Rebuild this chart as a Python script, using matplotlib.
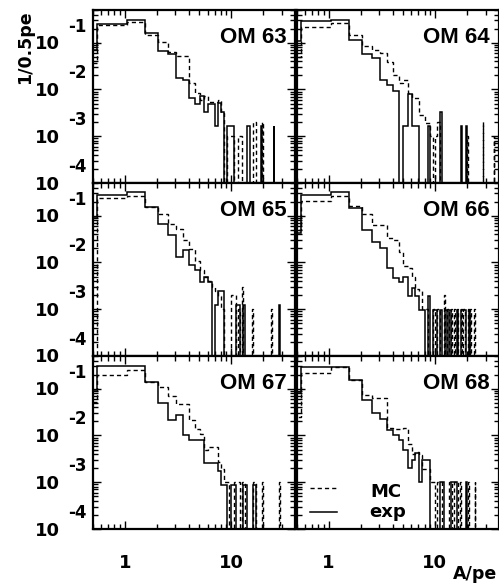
import numpy as np
import matplotlib.pyplot as plt
from matplotlib.ticker import LogLocator, NullFormatter
from matplotlib.transforms import offset_copy

plt.rcParams['font.family'] = 'DejaVu Sans'
plt.rcParams['font.weight'] = 'bold'

# 0.5 pe amplitude bins, 0.05 ... 40.05 pe
edges = 0.05 + 0.5 * np.arange(81)

om_ids = [63, 64, 65, 66, 67, 68]

# normalised spectra per 0.5 pe, first bins (from 0.05 pe)
exp_63 = [0.07, 0.25, 0.313, 0.163, 0.0676, 0.058, 0.0177, 0.0163, 0.0066, 0.005,
          0.0072, 0.0033, 0.0048, 0.0048, 0.00166, 0.0052, 0.0033, 0]
mc_63 = [0.036, 0.235, 0.28, 0.143, 0.105, 0.062, 0.052, 0.052, 0.0136, 0.0084,
         0.006, 0.0071, 0.0055, 0.0055, 0.0055, 0.006, 0.0031, 0]
exp_64 = [0.11, 0.294, 0.309, 0.114, 0.057, 0.047, 0.0159, 0.0124, 0.0092, 0,
          0.00166, 0.0079, 0.00166, 0.00166, 0, 0, 0, 0.00166]
mc_64 = [0.05, 0.219, 0.258, 0.146, 0.086, 0.070, 0.059, 0.038, 0.0205, 0.014,
         0.0163, 0.0085, 0.0066, 0.0066, 0.0029, 0.0029, 0.0019, 0.0019, 0.001]
exp_65 = [0.095, 0.275, 0.324, 0.155, 0.0654, 0.039, 0.0134, 0.0186, 0.0089, 0.0069,
          0.0039, 0.005, 0.0039, 0, 0.00126, 0.0025, 0.0025, 0]
mc_65 = [0, 0.234, 0.27, 0.155, 0.107, 0.065, 0.052, 0.03, 0.0192, 0.011,
         0.0069, 0.0048, 0.0041, 0.003, 0.0025, 0.0019, 0.001, 0]
exp_66 = [0.043, 0.275, 0.324, 0.143, 0.0496, 0.028, 0.0202, 0.0076, 0.0046, 0.0039,
          0.005, 0.0019, 0.0028, 0.0019, 0.00098, 0.00098, 0, 0.0019]
mc_66 = [0.05, 0.208, 0.267, 0.163, 0.107, 0.063, 0.063, 0.033, 0.03, 0.017,
         0.0082, 0.0075, 0.0048, 0.0027, 0.0025, 0.001, 0.001, 0]
exp_67 = [0.094, 0.303, 0.313, 0.141, 0.0488, 0.0215, 0.0275, 0.0103, 0.0081, 0.0081,
          0.0081, 0.0026, 0.0026, 0.0026, 0.0026, 0.0017, 0.00089, 0.00089]
mc_67 = [0.053, 0.195, 0.249, 0.141, 0.11, 0.07, 0.048, 0.048, 0.021, 0.0139,
         0.0105, 0.005, 0.0057, 0.0057, 0.0057, 0.0027, 0.0019, 0.001]
exp_68 = [0.08, 0.294, 0.294, 0.153, 0.057, 0.030, 0.0223, 0.0132, 0.0104, 0.0081,
          0.005, 0.002, 0.003, 0.0042, 0.001, 0.003, 0.003, 0.003]
mc_68 = [0.025, 0.212, 0.294, 0.153, 0.074, 0.063, 0.063, 0.0145, 0.0135, 0.0135,
         0.0145, 0.0066, 0.0041, 0.0045, 0.0039, 0.0019, 0.0019, 0.0019, 0.001, 0.001]

# single events in the high-amplitude tail (A/pe)
exp_tail_63 = [9.3, 9.8, 10.3, 14.3, 14.8, 19.3, 25.3]
mc_tail_63 = [9.3, 9.8, 10.3, 11.8, 12.3, 16.3, 16.3, 16.8, 16.8, 19.8, 19.8]
exp_tail_64 = [11.3, 11.3, 17.8, 19.8]
mc_tail_64 = [10.3, 10.8, 10.8, 20.3, 28.3, 28.3, 35.8]
exp_tail_65 = [11.3, 11.8, 13.3, 28.3]
mc_tail_65 = [10.3, 10.3, 10.8, 10.8, 11.8, 12.8, 12.8, 12.8, 15.8, 23.8]
exp_tail_66 = [9.8, 10.3, 11.3, 12.8, 13.8, 16.3, 17.8, 18.3, 18.8, 19.3, 21.3]
mc_tail_66 = [9.8, 10.8, 12.3, 12.3, 13.3, 14.3, 15.3, 16.3, 17.8, 18.8, 20.8, 21.8, 23.3]
exp_tail_67 = [10.3, 10.8, 13.3, 13.8, 16.3, 16.8]
mc_tail_67 = [9.3, 10.8, 11.3, 11.8, 12.8, 13.3, 16.3, 16.8, 19.8, 28.3]
exp_tail_68 = [11.3, 11.8, 14.3, 14.8, 15.3, 15.8, 19.8]
mc_tail_68 = [10.8, 11.3, 13.8, 14.3, 15.3, 15.8, 16.3, 17.3, 20.8, 23.8]

# weight of a single event after normalisation
exp_w = [0.00166, 0.00166, 0.00126, 0.00098, 0.00089, 0.001]
mc_w = [0.00102, 0.001, 0.001, 0.001, 0.001, 0.001]

exp_heads = [exp_63, exp_64, exp_65, exp_66, exp_67, exp_68]
mc_heads = [mc_63, mc_64, mc_65, mc_66, mc_67, mc_68]
exp_tails = [exp_tail_63, exp_tail_64, exp_tail_65, exp_tail_66, exp_tail_67, exp_tail_68]
mc_tails = [mc_tail_63, mc_tail_64, mc_tail_65, mc_tail_66, mc_tail_67, mc_tail_68]


def spectrum(head, tail, w):
    vals = np.zeros(len(edges) - 1)
    vals[:len(head)] = head
    vals += np.histogram(tail, bins=edges)[0] * w
    # empty bins drop to the bottom of the log axis
    return np.where(vals > 0, vals, 1e-9)


W, H = 499, 585
fig = plt.figure(figsize=(W / 100, H / 100), dpi=100)

col_x = [92.7, 296.5]
row_top = [10, 183, 356]
pw, ph = 202.5, 173

dash = (0, (3.0, 2.2))

for i, om in enumerate(om_ids):
    r, c = divmod(i, 2)
    ax = fig.add_axes([col_x[c] / W, 1 - (row_top[r] + ph) / H, pw / W, ph / H])
    ax.set_xscale('log')
    ax.set_yscale('log')

    ax.stairs(spectrum(mc_heads[i], mc_tails[i], mc_w[i]), edges, baseline=None,
              color='black', lw=1.0, ls=dash)
    ax.stairs(spectrum(exp_heads[i], exp_tails[i], exp_w[i]), edges, baseline=None,
              color='black', lw=1.1)

    ax.set_xlim(0.5, 40)
    ax.set_ylim(1e-4, 0.5)

    ax.xaxis.set_major_locator(LogLocator(base=10, numticks=20))
    ax.xaxis.set_minor_locator(LogLocator(base=10, subs=np.arange(2, 10), numticks=20))
    ax.yaxis.set_major_locator(LogLocator(base=10, numticks=20))
    ax.yaxis.set_minor_locator(LogLocator(base=10, subs=np.arange(2, 10), numticks=20))
    ax.xaxis.set_minor_formatter(NullFormatter())
    ax.yaxis.set_minor_formatter(NullFormatter())
    ax.tick_params(which='both', direction='in', top=True, right=True,
                   labelbottom=False, labelleft=False, width=1.0, color='black')
    ax.tick_params(which='major', length=6)
    ax.tick_params(which='minor', length=3.5)
    for sp in ax.spines.values():
        sp.set_linewidth(1.6)

    ax.text(0.956, 0.81, f'OM {om}', transform=ax.transAxes, ha='right',
            va='baseline', fontsize=16, family='Liberation Sans', weight='bold')

    # y labels: 10 with the exponent set above it, only on the left column
    if c == 0:
        ytr = ax.get_yaxis_transform()
        for k in [1, 2, 3, 4]:
            v = 10.0 ** (-k)
            ax.text(-0.161, v, '10', ha='right', va='center', fontsize=13,
                    transform=offset_copy(ytr, fig=fig, y=-1.5, units='dots'))
            ax.text(-0.122, v, f'-{k}', ha='left', va='center', fontsize=12,
                    transform=offset_copy(ytr, fig=fig, y=16, units='dots'))

    # x labels on the bottom row
    if r == 2:
        xtr = ax.get_xaxis_transform()
        for v, s in [(1, '1'), (10, '10')]:
            ax.text(v, 0, s, ha='center', va='center', fontsize=13,
                    transform=offset_copy(xtr, fig=fig, y=-34, units='dots'))

    if om == 68:
        ax.plot([0.067, 0.2], [0.237, 0.237], transform=ax.transAxes,
                color='black', lw=1.0, ls=dash)
        ax.plot([0.067, 0.2], [0.098, 0.098], transform=ax.transAxes,
                color='black', lw=1.1)
        ax.text(0.364, 0.185, 'MC', transform=ax.transAxes, fontsize=13,
                ha='left', va='baseline')
        ax.text(0.36, 0.069, 'exp', transform=ax.transAxes, fontsize=13,
                ha='left', va='baseline')

fig.text(25 / W, 1 - 10 / H, '1/0.5pe', rotation=90, ha='center', va='top',
         fontsize=12.5)
fig.text(497 / W, 1 - 579 / H, 'A/pe', ha='right', va='baseline', fontsize=12.5)

fig.savefig('out.png', dpi=100, facecolor='white')
